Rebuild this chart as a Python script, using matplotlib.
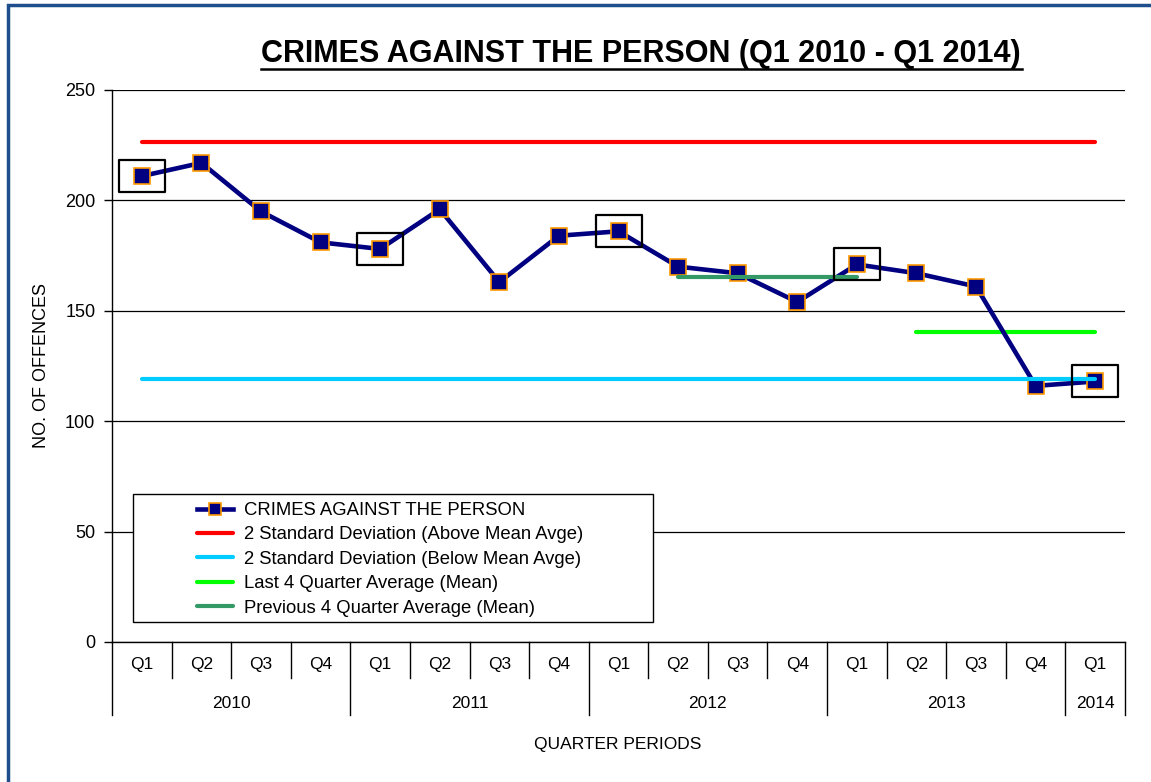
import matplotlib.pyplot as plt
from matplotlib.lines import Line2D
from matplotlib.patches import Rectangle
from matplotlib.path import Path

plt.rcParams['font.family'] = ['Liberation Sans', 'DejaVu Sans']

# Datos del grafico
quarters = ['Q1', 'Q2', 'Q3', 'Q4', 'Q1', 'Q2', 'Q3', 'Q4', 'Q1', 'Q2', 'Q3', 'Q4',
            'Q1', 'Q2', 'Q3', 'Q4', 'Q1']
years = ['2010', '2011', '2012', '2013', '2014']
year_counts = [4, 4, 4, 4, 1]
offences = [211, 217, 195, 181, 178, 196, 163, 184, 186, 170, 167, 154, 171, 167, 161, 116, 118]
sd_above = 226.6
sd_below = 119.0
last4_mean = 140.5
prev4_mean = 165.5
last4_idx = [13, 16]
prev4_idx = [9, 12]
q1_idx = [0, 4, 8, 12, 16]

W, H = 1151, 782
fig = plt.figure(figsize=(W / 100, H / 100), dpi=100)

def fx(px):
    return px / W

def fy(py):
    return 1 - py / H

ax = fig.add_axes([fx(112), fy(642), fx(1125) - fx(112), fy(90) - fy(642)])

x = list(range(len(offences)))

# lineas de referencia
ax.plot([0, len(offences) - 1], [sd_above, sd_above], color='#FF0000', lw=3,
        solid_capstyle='round', label='2 Standard Deviation (Above Mean Avge)', zorder=2)
ax.plot([0, len(offences) - 1], [sd_below, sd_below], color='#00CCFF', lw=3,
        solid_capstyle='round', label='2 Standard Deviation (Below Mean Avge)', zorder=4)
ax.plot(last4_idx, [last4_mean, last4_mean], color='#00FF00', lw=3,
        solid_capstyle='round', label='Last 4 Quarter Average (Mean)', zorder=2)
ax.plot(prev4_idx, [prev4_mean, prev4_mean], color='#339966', lw=3,
        solid_capstyle='round', label='Previous 4 Quarter Average (Mean)', zorder=4)

ax.plot(x, offences, color='#000080', lw=3.3, marker='s', markersize=11,
        markerfacecolor='#000080', markeredgecolor='#FF9900', markeredgewidth=1.2,
        label='CRIMES AGAINST THE PERSON', zorder=3)

# recuadros en los Q1
rect = Path([(-1.45, -1), (1.45, -1), (1.45, 1), (-1.45, 1), (-1.45, -1)],
            [Path.MOVETO, Path.LINETO, Path.LINETO, Path.LINETO, Path.CLOSEPOLY])
ax.plot([x[i] for i in q1_idx], [offences[i] for i in q1_idx], linestyle='none',
        marker=rect, markersize=33, markerfacecolor='none', markeredgecolor='black',
        markeredgewidth=1.6, zorder=5)

ax.set_xlim(-0.5, len(offences) - 0.5)
ax.set_ylim(0, 250)
ax.set_yticks([0, 50, 100, 150, 200, 250])
ax.tick_params(axis='y', labelsize=13, length=6, width=1, direction='out', pad=6)
ax.set_xticks([])
ax.grid(axis='y', color='black', lw=0.9)
for s in ['top', 'right']:
    ax.spines[s].set_visible(False)
ax.spines['left'].set_linewidth(1)
ax.spines['bottom'].set_linewidth(1)
ax.set_axisbelow(True)

# etiquetas de categorias
trans = ax.get_xaxis_transform()
ax_h = 642 - 90
for i, q in enumerate(quarters):
    ax.text(i, -23 / ax_h, q, transform=trans, ha='center', va='center', fontsize=12.5)
pos = 0
bounds = [0]
for yr, n in zip(years, year_counts):
    ax.text(pos + (n - 1) / 2, -61 / ax_h, yr, transform=trans, ha='center', va='center',
            fontsize=12.5)
    pos += n
    bounds.append(pos)
for b in range(len(offences) + 1):
    y_end = -73 / ax_h if b in bounds else -36 / ax_h
    ax.add_line(Line2D([b - 0.5, b - 0.5], [0, y_end], transform=trans, color='black',
                       lw=1, clip_on=False))

fig.text(fx(618), fy(745), 'QUARTER PERIODS', ha='center', va='center', fontsize=12.5)
fig.text(fx(42), fy(365), 'NO. OF OFFENCES', ha='center', va='center', rotation=90,
         fontsize=13)

# titulo subrayado
fig.text(fx(641), fy(54), 'CRIMES AGAINST THE PERSON (Q1 2010 - Q1 2014)', ha='center',
         va='center', fontsize=22, fontweight='bold')
fig.add_artist(Line2D([fx(261), fx(1022)], [fy(69), fy(69)], color='black', lw=1.8))

# leyenda (caja blanca sobre la grilla)
fig.add_artist(Rectangle((fx(133), fy(622)), fx(653) - fx(133), fy(494) - fy(622),
                         facecolor='white', edgecolor='black', lw=1,
                         transform=fig.transFigure))
handles, labels = ax.get_legend_handles_labels()
order = [4, 0, 1, 2, 3]
leg = fig.legend([handles[i] for i in order], [labels[i] for i in order],
                 loc='upper left', bbox_to_anchor=(fx(185), fy(490)), frameon=False,
                 fontsize=13.3, handlelength=1.95, handletextpad=0.62, labelspacing=0.4,
                 borderpad=0.15)
for h in leg.legend_handles:
    h.set_markersize(8)

# marco exterior
fig.add_artist(Rectangle((fx(8), fy(800)), fx(1200), fy(5) - fy(800), fill=False,
                         edgecolor='#1F4E8C', lw=2.5, transform=fig.transFigure))

plt.savefig('out.png', dpi=100)
